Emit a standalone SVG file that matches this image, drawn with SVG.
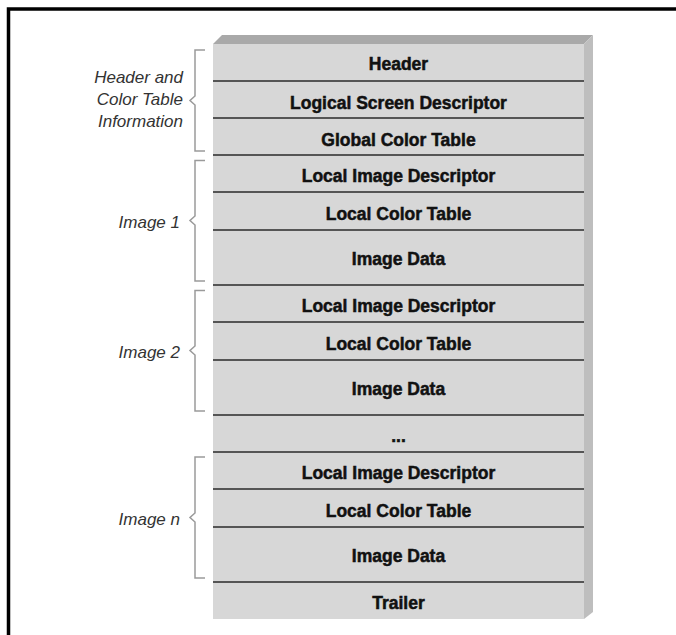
<svg xmlns="http://www.w3.org/2000/svg" width="676" height="635" viewBox="0 0 676 635">
<style>
.frame{stroke:#000;stroke-width:3.5;fill:none}
.front{fill:#d7d7d7}
.top{fill:#a9a9a9}
.side{fill:#bebebe}
.sep{stroke:#555;stroke-width:2}
.lbl{font-family:"Liberation Sans",Arial,sans-serif;font-weight:bold;font-size:17.5px;fill:#111;stroke:#111;stroke-width:0.5;text-anchor:middle}
.side-lbl{font-family:"Liberation Sans",Arial,sans-serif;font-style:italic;font-size:17px;fill:#333;text-anchor:end}
.br{stroke:#9a9a9a;stroke-width:1.5;fill:none}
</style>
<rect width="676" height="635" fill="#fff"/>
<path class="frame" d="M8.5,635 V9 H676"/>
<g id="box">
<polygon class="top" points="213,44 222,35 593,35 584,44"/>
<polygon class="side" points="584,44 593,35 593,612 584,619"/>
<rect class="front" x="213" y="44" width="371" height="575"/>
</g>
<g id="separators">
<line class="sep" x1="213" y1="81" x2="584" y2="81"/>
<line class="sep" x1="213" y1="118" x2="584" y2="118"/>
<line class="sep" x1="213" y1="155" x2="584" y2="155"/>
<line class="sep" x1="213" y1="192" x2="584" y2="192"/>
<line class="sep" x1="213" y1="230" x2="584" y2="230"/>
<line class="sep" x1="213" y1="285" x2="584" y2="285"/>
<line class="sep" x1="213" y1="322" x2="584" y2="322"/>
<line class="sep" x1="213" y1="360" x2="584" y2="360"/>
<line class="sep" x1="213" y1="415" x2="584" y2="415"/>
<line class="sep" x1="213" y1="452" x2="584" y2="452"/>
<line class="sep" x1="213" y1="489" x2="584" y2="489"/>
<line class="sep" x1="213" y1="527" x2="584" y2="527"/>
<line class="sep" x1="213" y1="582" x2="584" y2="582"/>
</g>
<g id="header"><text class="lbl" x="398.5" y="70">Header</text></g>
<g id="lsd"><text class="lbl" x="398.5" y="109">Logical Screen Descriptor</text></g>
<g id="gct"><text class="lbl" x="398.5" y="146">Global Color Table</text></g>
<g id="lid1"><text class="lbl" x="398.5" y="182">Local Image Descriptor</text></g>
<g id="lct1"><text class="lbl" x="398.5" y="220">Local Color Table</text></g>
<g id="data1"><text class="lbl" x="398.5" y="265">Image Data</text></g>
<g id="lid2"><text class="lbl" x="398.5" y="312">Local Image Descriptor</text></g>
<g id="lct2"><text class="lbl" x="398.5" y="350">Local Color Table</text></g>
<g id="data2"><text class="lbl" x="398.5" y="395">Image Data</text></g>
<g id="dots"><text class="lbl" x="398.5" y="442">...</text></g>
<g id="lidn"><text class="lbl" x="398.5" y="479">Local Image Descriptor</text></g>
<g id="lctn"><text class="lbl" x="398.5" y="517">Local Color Table</text></g>
<g id="datan"><text class="lbl" x="398.5" y="562">Image Data</text></g>
<g id="trailer"><text class="lbl" x="398.5" y="609">Trailer</text></g>
<g id="brackets">
<path class="br" d="M205,50 H195 V96 L190,100.5 L195,105 V151 H205"/>
<path class="br" d="M205,160.5 H195 V216 L190,220.5 L195,225 V281 H205"/>
<path class="br" d="M205,290.5 H195 V346 L190,350.5 L195,355 V411 H205"/>
<path class="br" d="M205,457 H195 V513 L190,517.5 L195,522 V578 H205"/>
</g>
<g id="grp-header">
<text class="side-lbl" x="183" y="83">Header and</text>
<text class="side-lbl" x="183" y="105">Color Table</text>
<text class="side-lbl" x="183" y="127">Information</text>
</g>
<g id="grp-image1"><text class="side-lbl" x="180" y="228">Image 1</text></g>
<g id="grp-image2"><text class="side-lbl" x="180" y="358">Image 2</text></g>
<g id="grp-imagen"><text class="side-lbl" x="180" y="525">Image n</text></g>
</svg>
